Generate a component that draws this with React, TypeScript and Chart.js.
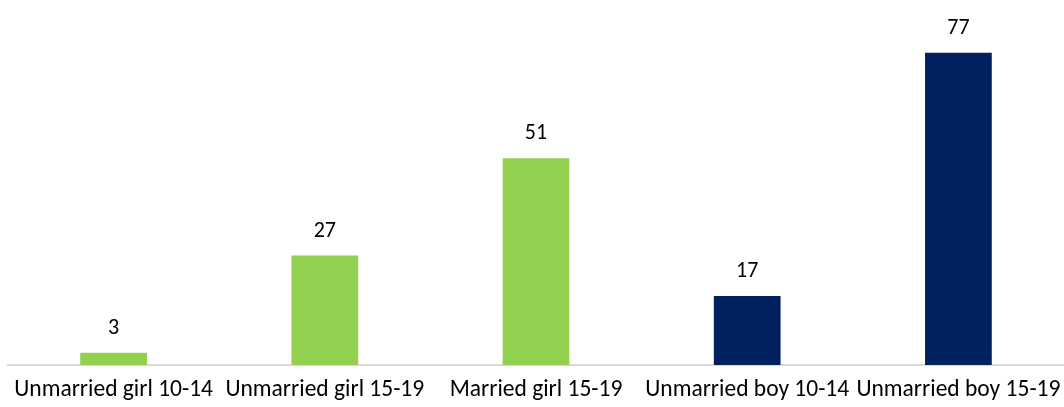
import React, { useEffect, useRef } from "react";
import { Chart, registerables } from "chart.js";

Chart.register(...registerables);

const categories = [
  "Unmarried girl 10-14",
  "Unmarried girl 15-19",
  "Married girl 15-19",
  "Unmarried boy 10-14",
  "Unmarried boy 15-19",
];
const values = [3, 27, 51, 17, 77];
const barColors = ["#92D050", "#92D050", "#92D050", "#002060", "#002060"];

const FONT = "Carlito, Lato, 'Liberation Sans', sans-serif";

const valueLabels = {
  id: "valueLabels",
  afterDatasetsDraw(chart: any) {
    const ctx = chart.ctx;
    const meta = chart.getDatasetMeta(0);
    ctx.save();
    ctx.font = `22px ${FONT}`;
    ctx.fillStyle = "#000";
    ctx.textAlign = "center";
    ctx.textBaseline = "alphabetic";
    meta.data.forEach((bar: any, i: number) => {
      ctx.fillText(String(values[i]), bar.x, bar.y - 19);
    });
    ctx.restore();
  },
};

export default function App() {
  const ref = useRef<HTMLCanvasElement | null>(null);
  useEffect(() => {
    if (!ref.current) return;
    const chart = new Chart(ref.current, {
      type: "bar",
      data: {
        labels: categories,
        datasets: [
          {
            data: values,
            backgroundColor: barColors,
            categoryPercentage: 1,
            barPercentage: 0.316,
          },
        ],
      },
      options: {
        animation: false,
        responsive: false,
        maintainAspectRatio: false,
        layout: { padding: { left: 8, right: 0, top: 0, bottom: 0 } },
        plugins: { legend: { display: false }, tooltip: { enabled: false } },
        scales: {
          x: {
            grid: { display: false, drawTicks: false },
            border: { display: true, color: "#d9d9d9", width: 2 },
            ticks: {
              autoSkip: false,
              maxRotation: 0,
              minRotation: 0,
              color: "#000",
              padding: 11,
              font: { family: FONT, size: 23.5 },
            },
            afterFit: (s: any) => {
              s.height = 42;
              s.paddingLeft = 0;
              s.paddingRight = 0;
            },
          },
          y: {
            display: false,
            min: 0,
            max: 90,
          },
        },
      },
      plugins: [valueLabels],
    });
    return () => chart.destroy();
  }, []);
  return (
    <div style={{ position: "absolute", left: 0, top: 0, width: 1064, height: 407 }}>
      <canvas ref={ref} width={1064} height={407} />
    </div>
  );
}
